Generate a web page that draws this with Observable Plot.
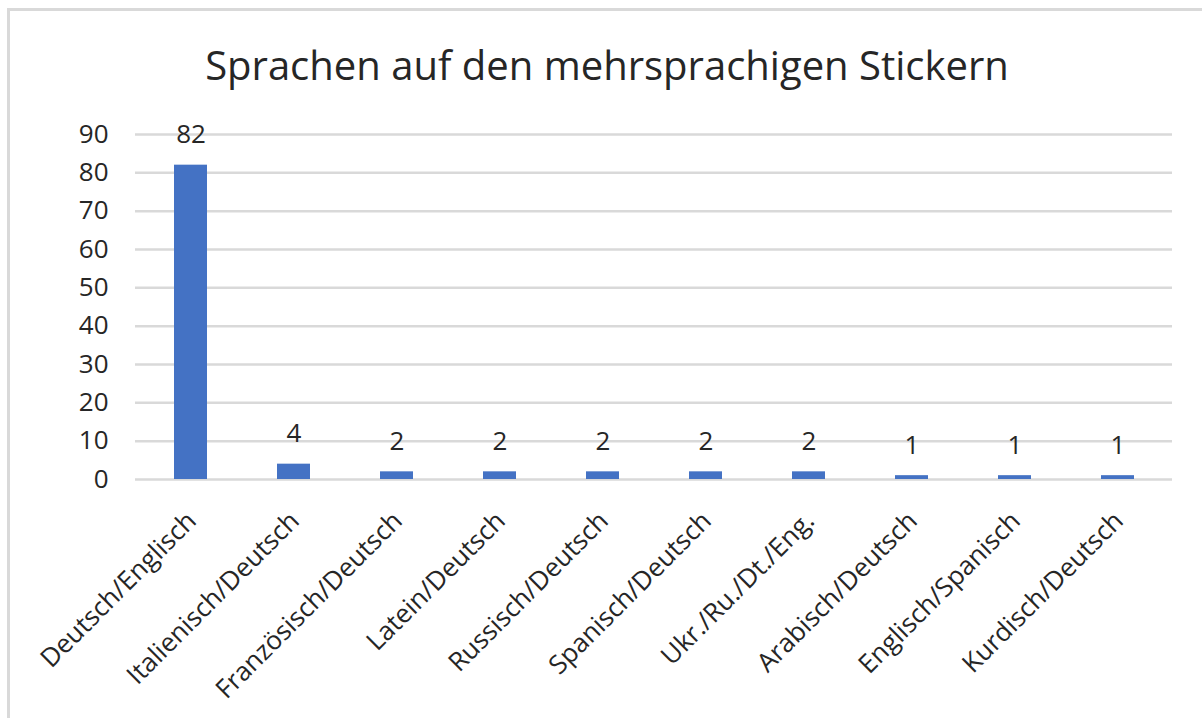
<!DOCTYPE html>
<html>
<head>
<meta charset="utf-8">
<script src="https://cdn.jsdelivr.net/npm/d3@7"></script>
<script src="https://cdn.jsdelivr.net/npm/@observablehq/plot@0.6"></script>
<style>
  html, body { margin: 0; padding: 0; background: #fff; }
  body { width: 1202px; height: 718px; overflow: hidden; position: relative; font-family: "Open Sans", sans-serif; }
  #frame { position: absolute; left: 7px; top: 8px; width: 1200px; height: 720px; border-left: 3px solid #d9d9d9; border-top: 3px solid #d9d9d9; box-sizing: border-box; }
  #title { position: absolute; left: 0; top: 0; width: 1214px; height: 110px; text-align: center; font-size: 40px; color: #262626; line-height: 1; padding-top: 45px; box-sizing: border-box; }
  #chart { position: absolute; left: 0; top: 110px; }
</style>
</head>
<body>
<div id="frame"></div>
<div id="title">Sprachen auf den mehrsprachigen Stickern</div>
<div id="chart"></div>
<script>
const categories = ["Deutsch/Englisch","Italienisch/Deutsch","Französisch/Deutsch","Latein/Deutsch","Russisch/Deutsch","Spanisch/Deutsch","Ukr./Ru./Dt./Eng.","Arabisch/Deutsch","Englisch/Spanisch","Kurdisch/Deutsch"];
const values = [82, 4, 2, 2, 2, 2, 2, 1, 1, 1];
const yTicks = [0, 10, 20, 30, 40, 50, 60, 70, 80, 90];

const data = categories.map((c, i) => ({category: c, value: values[i]}));

const chart = Plot.plot({
  width: 1202,
  height: 608,
  marginLeft: 135,
  marginRight: 30,
  marginTop: 24,
  marginBottom: 239,
  style: {fontFamily: "Open Sans, sans-serif", fontSize: "26px", color: "#262626", background: "transparent", overflow: "visible"},
  x: {domain: categories, paddingInner: 0.68, paddingOuter: 0.34, label: null},
  y: {domain: [0, 90], label: null},
  marks: [
    Plot.ruleY(yTicks, {stroke: "#d9d9d9", strokeWidth: 2.5}),
    Plot.barY(data, {x: "category", y: "value", fill: "#4472C4"}),
    Plot.text(data, {x: "category", y: "value", text: d => String(d.value), lineAnchor: "bottom", dy: -22, fontSize: 26, fill: "#262626"}),
    Plot.axisY(yTicks, {tickSize: 0, tickPadding: 27, fontSize: 26, fill: "#262626"}),
    Plot.axisX({tickSize: 0, tickRotate: -45, tickPadding: 37, dx: 1, fontSize: 26, fill: "#262626"})
  ]
});
document.getElementById("chart").appendChild(chart);
</script>
</body>
</html>
